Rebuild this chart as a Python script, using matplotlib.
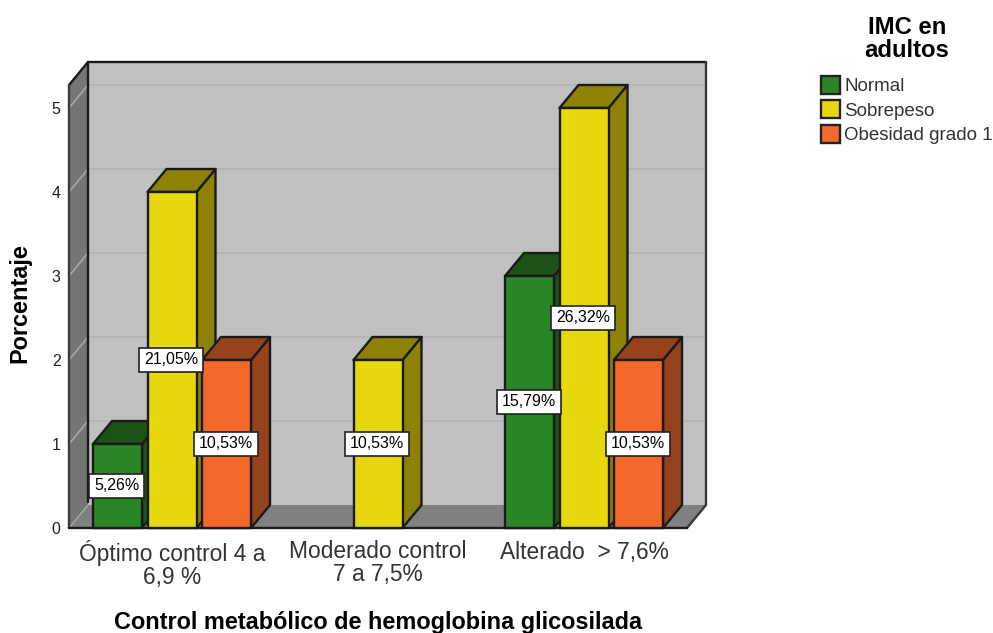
import numpy as np
import matplotlib.pyplot as plt
from matplotlib.patches import Polygon, Patch

plt.rcParams.update({
    'font.family': ['Liberation Sans', 'DejaVu Sans'],
})

categories = ['Óptimo control 4 a\n6,9 %', 'Moderado control\n7 a 7,5%', 'Alterado  > 7,6%']
series = ['Normal', 'Sobrepeso', 'Obesidad grado 1']
normal = [1, 0, 3]
sobrepeso = [4, 2, 5]
obesidad = [2, 0, 2]
normal_pct = ['5,26%', '', '15,79%']
sobrepeso_pct = ['21,05%', '10,53%', '26,32%']
obesidad_pct = ['10,53%', '', '10,53%']
yticks = [0, 1, 2, 3, 4, 5]

W, H = 993, 633
front = ['#2a8527', '#e6d80d', '#f4682a']
dark = ['#1b5218', '#8c8306', '#96421c']
edge = '#1a1a1a'

fig = plt.figure(figsize=(W / 100, H / 100), dpi=100)
# front plane of the 3d box, in pixels: x 69-687, y 85-528
ax = fig.add_axes([69 / W, 1 - 528 / H, 618 / W, 443 / H])
ax.set_xlim(-0.5, 2.5)
ax.set_ylim(0, 443 / 84)
for s in ax.spines.values():
    s.set_visible(False)

# depth of the box, converted from pixels to data units
dx = 19 * 3 / 618
dy = 23 / 84
ytop = 443 / 84


def face(pts, fc, z, lw=1.7, ec=edge):
    ax.add_patch(Polygon(pts, closed=True, fc=fc, ec=ec, lw=lw, zorder=z, clip_on=False, joinstyle='round'))


def line(xs, ys, color, lw=1.7, z=2):
    ax.plot(xs, ys, color=color, lw=lw, zorder=z, clip_on=False, solid_capstyle='round')


x0, x1 = -0.5, 2.5
# back wall, left wall, floor, edges drawn apart because they differ
face([(x0 + dx, dy), (x1 + dx, dy), (x1 + dx, ytop + dy), (x0 + dx, ytop + dy)], '#c0c0c0', 1, lw=0, ec='none')
face([(x0, 0), (x0 + dx, dy), (x0 + dx, ytop + dy), (x0, ytop)], '#757575', 1, lw=0, ec='none')
face([(x0, 0), (x1, 0), (x1 + dx, dy), (x0 + dx, dy)], '#808080', 1, lw=0, ec='none')

for v in yticks[1:]:
    line([x0 + dx, x1 + dx], [v + dy, v + dy], '#b3b3b3', lw=1.3)
    line([x0, x0 + dx], [v, v + dy], '#a8a8a8', lw=1.2)

line([x0, x0 + dx], [0, dy], '#a8a8a8', lw=1.0)
line([x0 + dx, x1 + dx], [ytop + dy, ytop + dy], edge)
line([x0 + dx, x0 + dx], [dy + 0.03, ytop + dy], edge)
line([x1 + dx, x1 + dx], [dy, ytop + dy], '#3a3a3a')
line([x1, x1 + dx], [0, dy], '#3a3a3a')
line([x0, x0 + dx], [ytop, ytop + dy], edge)
line([x0, x0], [0, ytop], '#3a3a3a')
line([x0, x1], [0, 0], edge)

width = 49 * 3 / 618
step = 54.5 * 3 / 618
values = [normal, sobrepeso, obesidad]
labels = [normal_pct, sobrepeso_pct, obesidad_pct]
z = 3
for i in range(len(categories)):
    for j in range(len(series)):
        v = values[j][i]
        if v == 0:
            continue
        xl = i + (j - 1) * step - width / 2
        xr = xl + width
        face([(xr, 0), (xr + dx, dy), (xr + dx, v + dy), (xr, v)], dark[j], z)
        face([(xl, v), (xr, v), (xr + dx, v + dy), (xl + dx, v + dy)], dark[j], z)
        ax.bar(xl + width / 2, v, width, color=front[j], edgecolor=edge, lw=1.7, zorder=z, clip_on=False)
        z += 1

# the value boxes sit above every bar
for i in range(len(categories)):
    for j in range(len(series)):
        if labels[j][i]:
            ax.text(i + (j - 1) * step - 0.004, values[j][i] / 2, labels[j][i], ha='center', va='center',
                    fontsize=11.5, color='black', zorder=50,
                    bbox=dict(boxstyle='square,pad=0.3', fc='white', ec='#222222', lw=1.2))

ax.set_xticks(range(len(categories)))
ax.set_xticklabels(categories, fontsize=16.4, color='#333333', linespacing=0.98)
ax.set_yticks(yticks)
ax.tick_params(axis='x', length=0, pad=9)
ax.tick_params(axis='y', length=0, pad=6, labelsize=11.5, labelcolor='#222222')

fig.text(378 / W, 1 - 623 / H, 'Control metabólico de hemoglobina glicosilada', ha='center', va='center',
         fontsize=16.9, fontweight='bold')
fig.text(20 / W, 1 - 303 / H, 'Porcentaje', ha='center', va='center', rotation=90,
         fontsize=16.9, fontweight='bold')

handles = [Patch(fc=front[k], ec='#222222', lw=1.7, label=series[k]) for k in range(3)]
leg = fig.legend(handles=handles, loc='upper left', bbox_to_anchor=(821 / W, 1 - 16 / H), frameon=False,
                 fontsize=13.5, title='IMC en\nadultos', handlelength=1.0, handleheight=1.1,
                 handletextpad=0.25, labelspacing=0.27, borderpad=0, borderaxespad=0, alignment='center')
leg.get_title().set_fontsize(17.2)
leg.get_title().set_fontweight('bold')
leg.get_title().set_linespacing(1.0)
leg.get_title().set_multialignment('center')
leg._legend_box.sep = 10
for t in leg.get_texts():
    t.set_color('#333333')

fig.savefig('out.png', dpi=100)
